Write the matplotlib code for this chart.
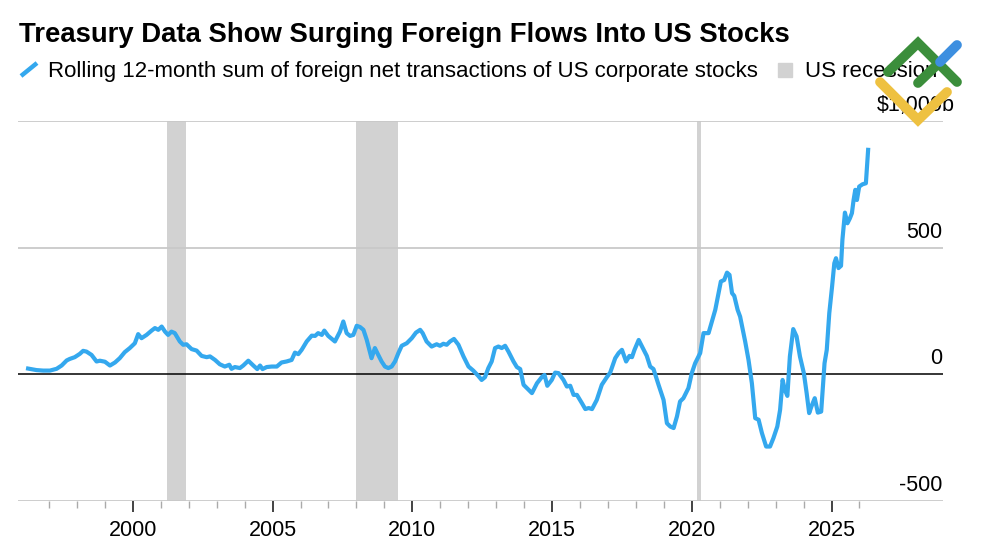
import matplotlib
matplotlib.use("Agg")
import matplotlib.pyplot as plt
from matplotlib.lines import Line2D
from matplotlib.patches import Rectangle

# ---------------- data ----------------
years = [1996.25, 1996.55, 1996.79, 1997.03, 1997.27, 1997.45, 1997.63, 1997.74, 1997.92,
         1998.10, 1998.22, 1998.34, 1998.52, 1998.70, 1998.82, 1999.00, 1999.18, 1999.36,
         1999.53, 1999.71, 1999.89, 2000.07, 2000.19, 2000.31, 2000.49, 2000.67, 2000.79,
         2000.91, 2001.03, 2001.15, 2001.26, 2001.38, 2001.50, 2001.68, 2001.80, 2001.92,
         2002.10, 2002.28, 2002.46, 2002.64, 2002.76, 2002.94, 2003.11, 2003.29, 2003.45,
         2003.53, 2003.65, 2003.83, 2003.95, 2004.13, 2004.31, 2004.45, 2004.55, 2004.64,
         2004.79, 2004.97, 2005.15, 2005.32, 2005.50, 2005.68, 2005.80, 2005.92, 2006.04,
         2006.22, 2006.40, 2006.52, 2006.63, 2006.76, 2006.85, 2006.99, 2007.23, 2007.41,
         2007.53, 2007.65, 2007.77, 2007.89, 2008.01, 2008.13, 2008.25, 2008.37, 2008.46,
         2008.54, 2008.66, 2008.78, 2008.90, 2009.02, 2009.14, 2009.26, 2009.38, 2009.50,
         2009.62, 2009.80, 2009.98, 2010.13, 2010.28, 2010.37, 2010.51, 2010.69, 2010.87,
         2010.99, 2011.11, 2011.23, 2011.35, 2011.49, 2011.65, 2011.83, 2012.01, 2012.18,
         2012.36, 2012.48, 2012.60, 2012.72, 2012.84, 2012.96, 2013.08, 2013.20, 2013.32,
         2013.44, 2013.62, 2013.74, 2013.86, 2013.98, 2014.10, 2014.28, 2014.46, 2014.63,
         2014.73, 2014.83, 2014.99, 2015.11, 2015.23, 2015.41, 2015.53, 2015.65, 2015.77,
         2015.89, 2016.07, 2016.19, 2016.31, 2016.43, 2016.60, 2016.78, 2016.96, 2017.08,
         2017.26, 2017.38, 2017.50, 2017.65, 2017.77, 2017.86, 2017.95, 2018.10, 2018.22,
         2018.39, 2018.51, 2018.63, 2018.81, 2018.99, 2019.11, 2019.23, 2019.35, 2019.47,
         2019.58, 2019.70, 2019.88, 2020.00, 2020.12, 2020.30, 2020.42, 2020.60, 2020.72,
         2020.84, 2020.96, 2021.04, 2021.16, 2021.26, 2021.35, 2021.44, 2021.52, 2021.64,
         2021.73, 2021.91, 2022.03, 2022.15, 2022.27, 2022.39, 2022.51, 2022.66, 2022.80,
         2022.92, 2023.06, 2023.16, 2023.25, 2023.33, 2023.42, 2023.51, 2023.63, 2023.75,
         2023.87, 2024.01, 2024.11, 2024.20, 2024.28, 2024.40, 2024.51, 2024.63, 2024.75,
         2024.83, 2024.92, 2025.02, 2025.10, 2025.16, 2025.25, 2025.34, 2025.39, 2025.48,
         2025.57, 2025.66, 2025.73, 2025.79, 2025.85, 2025.91, 2025.99, 2026.11, 2026.23,
         2026.31]
flows = [22, 16, 14, 14, 21, 34, 54, 60, 67,
         80, 92, 89, 76, 50, 53, 49, 34, 46,
         63, 87, 103, 122, 158, 142, 155, 172, 182,
         175, 188, 168, 155, 168, 162, 129, 116, 118,
         99, 93, 72, 67, 70, 56, 39, 30, 37,
         21, 28, 24, 34, 53, 34, 20, 34, 20,
         28, 30, 30, 46, 50, 56, 85, 79, 96,
         129, 152, 151, 162, 155, 172, 151, 129, 168,
         208, 162, 151, 155, 191, 186, 175, 135, 96,
         63, 103, 76, 50, 30, 24, 30, 50, 83,
         112, 122, 142, 164, 175, 162, 129, 109, 118,
         112, 120, 116, 129, 139, 116, 70, 30, 14,
         -7, -23, -12, 24, 50, 103, 109, 103, 112,
         89, 50, 28, 20, -42, -55, -75, -36, -12,
         -3, -46, -23, 6, 4, -23, -49, -46, -82,
         -82, -115, -138, -134, -138, -102, -42, -12, 6,
         63, 83, 96, 50, 72, 67, 96, 135, 109,
         72, 30, 20, -42, -102, -194, -207, -213, -167,
         -108, -95, -55, 4, 43, 83, 162, 162, 208,
         254, 320, 366, 372, 401, 392, 320, 309, 254,
         227, 129, 56, -36, -174, -180, -233, -286, -286,
         -253, -207, -141, -23, -62, -86, 70, 178, 149,
         70, 4, -75, -154, -128, -95, -152, -148, 43,
         96, 241, 346, 438, 458, 419, 428, 531, 638,
         596, 616, 636, 688, 728, 688, 741, 750, 754,
         886]

recession_starts = [2001.21, 2007.99, 2020.18]
recession_ends = [2001.89, 2009.48, 2020.33]

major_years = [2000, 2005, 2010, 2015, 2020, 2025]
minor_years = list(range(1997, 2027))
y_grid = [-500, 500, 1000]
y_labels = ["-500", "0", "500", "$1,000b"]
y_label_vals = [-500, 0, 500, 1000]

title = "Treasury Data Show Surging Foreign Flows Into US Stocks"
series_label = "Rolling 12-month sum of foreign net transactions of US corporate stocks"
recession_label = "US recession"

LINE_C = "#34a8ee"
GRID_C = "#c9c9c9"
BAND_C = "#d2d2d2"

plt.rcParams['font.family'] = ['Liberation Sans', 'DejaVu Sans']
FS = 15.5
FS_LEG = 16

W, H = 1000, 545
fig = plt.figure(figsize=(W / 100, H / 100), dpi=100)


def fx(x):
    return x / W


def fy(y):
    return 1 - y / H


ax_l, ax_r, ax_t, ax_b = 18.3, 943.3, 121.0, 500.7
ax = fig.add_axes([fx(ax_l), fy(ax_b), (ax_r - ax_l) / W, (ax_b - ax_t) / H])
ax.set_xlim(1995.9, 2029.0)
ax.set_ylim(-500, 1000)

for s in ax.spines.values():
    s.set_visible(False)

for s0, s1 in zip(recession_starts, recession_ends):
    ax.axvspan(s0, s1, color=BAND_C, zorder=0, lw=0)

for g in y_grid:
    ax.axhline(g, color=GRID_C, lw=1.3, zorder=1)
ax.axhline(0, color="black", lw=1.1, zorder=2)

ax.plot(years, flows, color=LINE_C, lw=3.0, zorder=3, solid_joinstyle="round")

ax.set_yticks([])
ax.set_xticks(major_years)
ax.set_xticklabels([str(y) for y in major_years], fontsize=FS)
ax.set_xticks(minor_years, minor=True)
ax.tick_params(axis="x", which="major", length=8, width=1.2, color="#222222", pad=6)
ax.tick_params(axis="x", which="minor", length=5, width=1.0, color="#aaaaaa")

for v, lab in zip(y_label_vals, y_labels):
    ax.annotate(lab, xy=(1.0, v), xycoords=ax.get_yaxis_transform(),
                xytext=(8 if lab.endswith("b") else -1, 7), textcoords="offset points",
                ha="right", va="baseline", fontsize=FS, color="black")

# title and legend
fig.text(fx(19), fy(42), title, fontsize=19.8, fontweight="bold", ha="left", va="baseline")
fig.add_artist(Line2D([fx(21), fx(37)], [fy(76), fy(63)], color=LINE_C, lw=3.2,
                      transform=fig.transFigure, solid_capstyle="butt"))
fig.text(fx(48), fy(77), series_label, fontsize=FS_LEG, ha="left", va="baseline")
fig.add_artist(Rectangle((fx(778), fy(77)), 14 / W, 14 / H, color=BAND_C,
                         transform=fig.transFigure))
fig.text(fx(805), fy(77), recession_label, fontsize=FS_LEG, ha="left", va="baseline")

# watermark logo
logo = [
    ([(888, 72), (918, 43), (957, 82)], "#3b8e3b"),
    ([(918, 83), (940, 62)], "#3b8e3b"),
    ([(940, 62), (957, 45)], "#3d8fe0"),
    ([(880, 82), (918, 120), (947, 92)], "#eec141"),
]
for pts, c in logo:
    fig.add_artist(Line2D([fx(p[0]) for p in pts], [fy(p[1]) for p in pts], color=c,
                          lw=7, transform=fig.transFigure, solid_capstyle="round",
                          solid_joinstyle="miter", zorder=10))

fig.savefig("out.png", dpi=100)
